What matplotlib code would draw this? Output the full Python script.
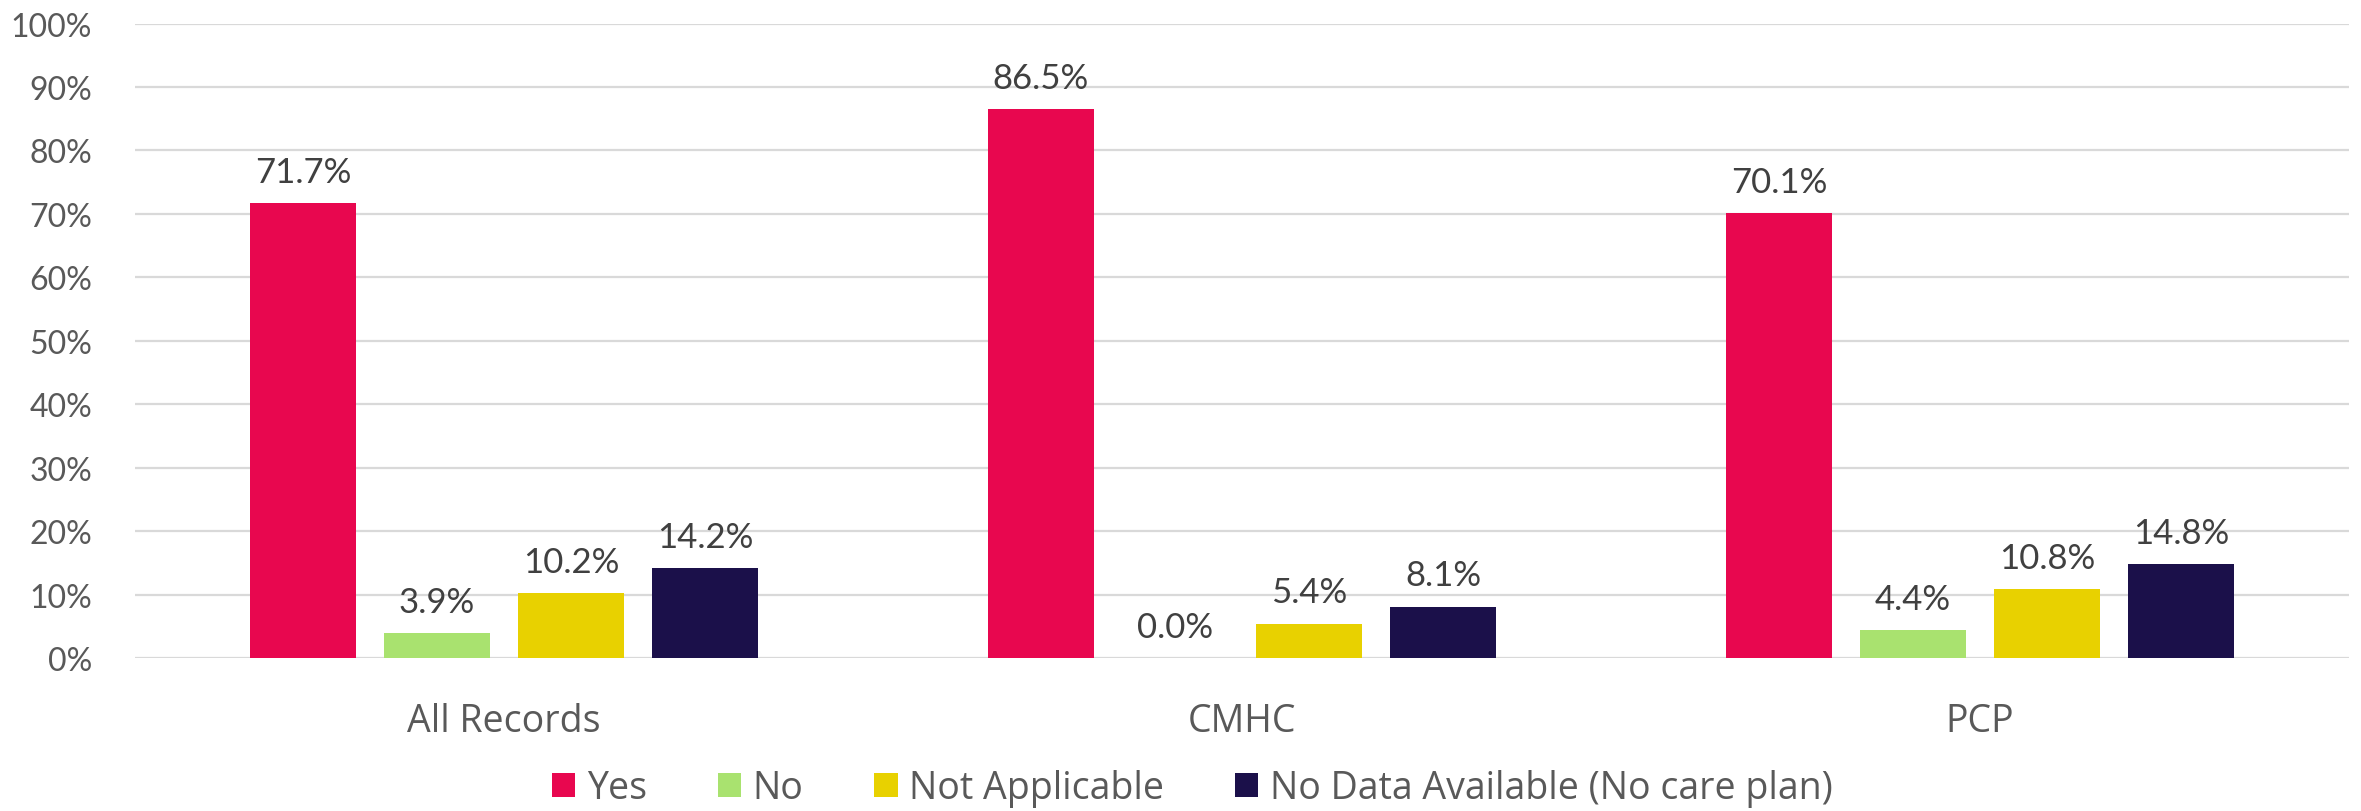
import matplotlib
matplotlib.use("Agg")
import matplotlib.pyplot as plt
import numpy as np

categories = ["All Records", "CMHC", "PCP"]
series_names = ["Yes", "No", "Not Applicable", "No Data Available (No care plan)"]
yes_vals = [71.7, 86.5, 70.1]
no_vals = [3.9, 0.0, 4.4]
na_vals = [10.2, 5.4, 10.8]
nodata_vals = [14.2, 8.1, 14.8]
colors = ["#E8074F", "#A9E26F", "#E8D100", "#1B104A"]

plt.rcParams["font.family"] = ["Lato", "DejaVu Sans"]
label_font = ["Open Sans", "DejaVu Sans"]

fig = plt.figure(figsize=(23.61, 8.12), dpi=100)
ax = fig.add_axes([0.0572, 0.1884, 0.9377, 0.7814])

x = np.arange(len(categories))
bar_width = 0.143
step = 0.1816
offsets = (np.arange(4) - 1.5) * step

for i, (vals, name) in enumerate(zip([yes_vals, no_vals, na_vals, nodata_vals], series_names)):
    bars = ax.bar(x + offsets[i], vals, width=bar_width, color=colors[i], label=name, zorder=3)
    for b, v in zip(bars, vals):
        ax.annotate(f"{v:.1f}%", (b.get_x() + b.get_width() / 2, v),
                    xytext=(0, 11), textcoords="offset points",
                    ha="center", va="bottom", fontsize=25, color="#404040")

ax.set_xlim(-0.5, len(categories) - 0.5)
ax.set_ylim(0, 100)
ax.set_yticks(np.arange(0, 101, 10))
ax.set_yticklabels([f"{t}%" for t in range(0, 101, 10)])
ax.set_xticks(x)
ax.set_xticklabels(categories, family=label_font)
ax.tick_params(axis="y", length=0, pad=31, labelsize=23, labelcolor="#595959")
ax.tick_params(axis="x", length=0, pad=32, labelsize=27, labelcolor="#595959")
ax.grid(axis="y", color="#D9D9D9", linewidth=1.6, zorder=0)
for s in ax.spines.values():
    s.set_visible(False)

fig.legend(loc="center", bbox_to_anchor=(0.505, 0.028), ncol=4, frameon=False,
           prop={"family": label_font, "size": 27}, labelcolor="#595959",
           handlelength=0.62, handleheight=0.62, handletextpad=0.3, columnspacing=1.9)

fig.savefig("out.png", dpi=100)
